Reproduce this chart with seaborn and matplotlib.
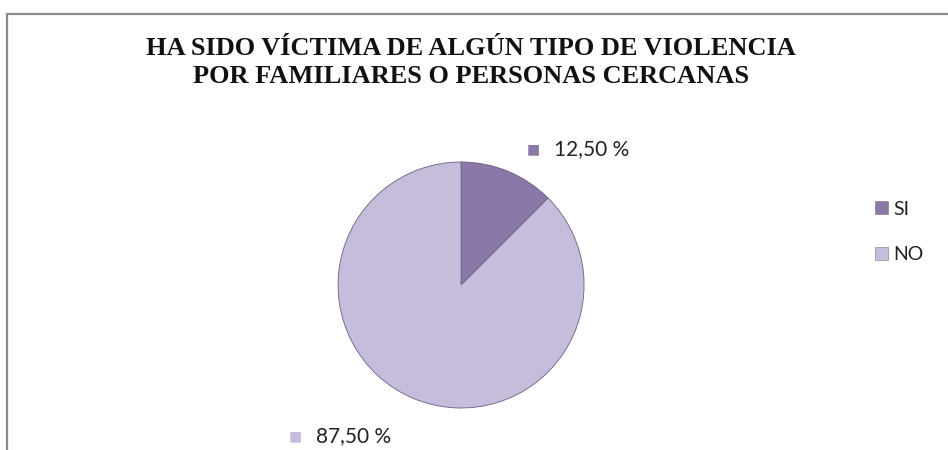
import matplotlib
matplotlib.use('Agg')
import matplotlib.pyplot as plt
import seaborn as sns
from matplotlib.patches import Rectangle, Patch

# ── Data ──────────────────────────────────────────────────────────────────────
TITLE      = 'HA SIDO VÍCTIMA DE ALGÚN TIPO DE VIOLENCIA\nPOR FAMILIARES O PERSONAS CERCANAS'
CATEGORIES = ['SI', 'NO']
PERCENTS   = [12.5, 87.5]
COLORS     = ['#8a78a8', '#c6bcdc']

sns.set_theme(style='white')
plt.rcParams['font.family'] = ['Lato', 'DejaVu Sans']

fig = plt.figure(figsize=(9.48, 4.5), dpi=100)
fig.patch.set_facecolor('white')

# chart frame (open at the bottom, like the scanned page)
fig.add_artist(Rectangle((0.007, -0.05), 1.2, 1.02, transform=fig.transFigure,
                         fill=False, edgecolor='#8a8a8a', linewidth=1.6))

fig.text(0.497, 0.918, TITLE, ha='center', va='top', fontsize=19,
         fontweight='bold', family='Liberation Serif', color='#111111',
         linespacing=1.3)

ax = fig.add_axes([0.3566, 0.0933, 0.2595, 0.5467])
wedges, _ = ax.pie(PERCENTS, colors=COLORS, startangle=90, counterclock=False,
                   radius=1.0,
                   wedgeprops=dict(edgecolor='#6a5f7a', linewidth=0.6))
ax.set_xlim(-1, 1)
ax.set_ylim(-1, 1)
ax.set_aspect('equal')

# data labels with coloured markers
label_pos = [(0.537, 1.106), (-1.40, -1.228)]
for pct, col, (lx, ly) in zip(PERCENTS, COLORS, label_pos):
    txt = f'{pct:.2f}'.replace('.', ',') + ' %'
    ax.text(lx, ly, '■', color=col, fontsize=10, va='center', ha='left',
            family='DejaVu Sans', clip_on=False)
    ax.text(lx + 0.22, ly, txt, color='#222222', fontsize=15, va='center',
            ha='left', clip_on=False)

handles = [Patch(facecolor=c, edgecolor='#777777', linewidth=0.4) for c in COLORS]
fig.legend(handles, CATEGORIES, loc='center left', bbox_to_anchor=(0.905, 0.485),
           frameon=False, fontsize=14, handlelength=0.65, handleheight=0.65,
           handletextpad=0.25, labelspacing=1.45, labelcolor='#222222')

plt.savefig('out.png', dpi=100)
plt.close()
